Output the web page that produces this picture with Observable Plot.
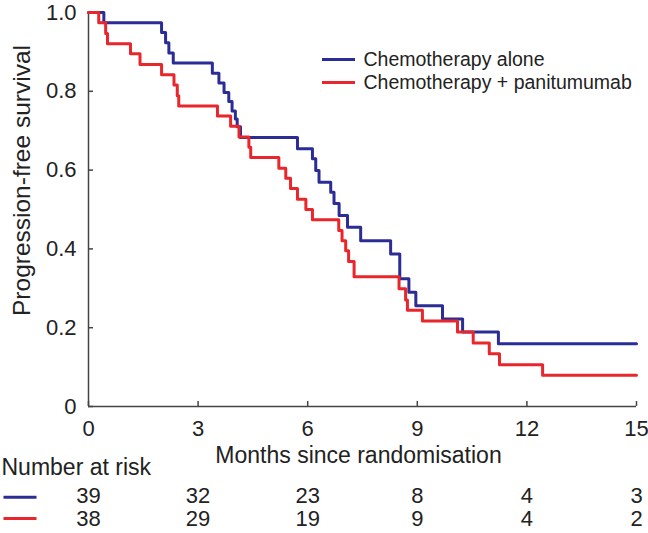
<!DOCTYPE html>
<html>
<head>
<meta charset="utf-8">
<script src="https://cdn.jsdelivr.net/npm/d3@7"></script>
<script src="https://cdn.jsdelivr.net/npm/@observablehq/plot@0.6"></script>
<style>
  html, body { margin: 0; padding: 0; background: #fff; }
  #chart svg { display: block; }
</style>
</head>
<body>
<div id="chart"></div>
<script>
// ---- data ----
const seriesNames = ["Chemotherapy alone", "Chemotherapy + panitumumab"];
const seriesColors = ["#2b2d95", "#e8262b"];

// Kaplan–Meier step points: time (months) and progression-free survival
const aloneTime = [0, 0.42, 2.0, 2.11, 2.2, 2.32, 3.39, 3.57, 3.71, 3.84, 3.93, 4.02, 4.07, 4.16,
  5.72, 6.13, 6.22, 6.31, 6.63, 6.72, 6.86, 7.09, 7.45, 8.27, 8.52, 8.77, 8.96, 9.69, 10.24, 11.22, 15];
const aloneSurv = [1.0, 0.974, 0.949, 0.923, 0.897, 0.872, 0.846, 0.821, 0.797, 0.774, 0.75, 0.73, 0.71, 0.683,
  0.654, 0.629, 0.599, 0.569, 0.544, 0.515, 0.485, 0.455, 0.421, 0.387, 0.324, 0.29, 0.256, 0.222, 0.189, 0.159, 0.159];

const panTime = [0, 0.28, 0.47, 0.52, 1.15, 1.41, 2.0, 2.34, 2.43, 2.47, 3.53, 3.89, 4.12, 4.39, 4.44,
  5.21, 5.4, 5.53, 5.72, 5.95, 6.13, 6.85, 6.94, 7.04, 7.12, 7.27, 8.5, 8.68, 8.73, 9.14, 10.1, 10.53, 10.97, 11.25, 12.43, 15];
const panSurv = [1.0, 0.974, 0.947, 0.921, 0.895, 0.868, 0.842, 0.816, 0.789, 0.763, 0.737, 0.711, 0.684, 0.658, 0.632,
  0.605, 0.579, 0.553, 0.526, 0.5, 0.474, 0.447, 0.421, 0.395, 0.368, 0.329, 0.299, 0.27, 0.244, 0.217, 0.189, 0.161, 0.134, 0.106, 0.079, 0.079];

const xTicks = [0, 3, 6, 9, 12, 15];
const yTicks = [0, 0.2, 0.4, 0.6, 0.8, 1.0];

const riskTimes = [0, 3, 6, 9, 12, 15];
const riskAlone = [39, 32, 23, 8, 4, 3];
const riskPan = [38, 29, 19, 9, 4, 2];

const xLabel = "Months since randomisation";
const yLabel = "Progression-free survival";
const riskTitle = "Number at risk";

// ---- build tables ----
const alone = aloneTime.map((t, i) => ({t, s: aloneSurv[i]}));
const pan = panTime.map((t, i) => ({t, s: panSurv[i]}));

const dash = {draw(ctx) { ctx.moveTo(-16.5, 0); ctx.lineTo(16.5, 0); }};
const FONT = "'Liberation Sans', Arial, Helvetica, sans-serif";
const TXT = "#222";

const chart = Plot.plot({
  width: 648,
  height: 533,
  marginLeft: 88,
  marginRight: 12,
  marginTop: 12,
  marginBottom: 127,
  style: {fontFamily: FONT, fontSize: "22px", color: TXT, background: "#fff", overflow: "visible"},
  x: {domain: [0, 15]},
  y: {domain: [0, 1]},
  marks: [
    Plot.axisX({ticks: xTicks, tickSize: -5, tickPadding: 19, tickFormat: d => String(d), label: null,
      stroke: "#444", strokeWidth: 1.5, fill: TXT, fontSize: 22}),
    Plot.axisY({ticks: yTicks, tickSize: -5, tickPadding: 17, tickFormat: d => d === 0 ? "0" : d.toFixed(1), label: null,
      stroke: "#444", strokeWidth: 1.5, fill: TXT, fontSize: 22}),
    Plot.ruleX([0], {stroke: "#444", strokeWidth: 1.5}),
    Plot.ruleY([0], {stroke: "#444", strokeWidth: 1.5}),
    Plot.line(alone, {x: "t", y: "s", curve: "step-after", stroke: seriesColors[0], strokeWidth: 3}),
    Plot.line(pan, {x: "t", y: "s", curve: "step-after", stroke: seriesColors[1], strokeWidth: 3}),
    // legend
    Plot.dot([seriesNames[0]], {frameAnchor: "top-left", dx: 250, dy: 47, symbol: dash, fill: "none", stroke: seriesColors[0], strokeWidth: 3}),
    Plot.dot([seriesNames[1]], {frameAnchor: "top-left", dx: 250, dy: 70, symbol: dash, fill: "none", stroke: seriesColors[1], strokeWidth: 3}),
    Plot.text([seriesNames[0]], {frameAnchor: "top-left", dx: 275, dy: 47, textAnchor: "start", lineAnchor: "middle", fontSize: 19.5, fill: TXT}),
    Plot.text([seriesNames[1]], {frameAnchor: "top-left", dx: 275, dy: 70, textAnchor: "start", lineAnchor: "middle", fontSize: 19.5, fill: TXT}),
    // axis titles
    Plot.text([xLabel], {frameAnchor: "bottom", dx: -4, dy: 49, textAnchor: "middle", lineAnchor: "middle", fontSize: 23, fill: TXT}),
    Plot.text([yLabel], {frameAnchor: "left", dx: -66, dy: -29, rotate: -90, textAnchor: "middle", lineAnchor: "middle", fontSize: 24.5, fill: TXT}),
    // number at risk
    Plot.text([riskTitle], {frameAnchor: "bottom-left", dx: -87, dy: 61.5, textAnchor: "start", lineAnchor: "middle", fontSize: 23, fill: TXT}),
    Plot.dot([seriesNames[0]], {frameAnchor: "bottom-left", dx: -68.5, dy: 90.7, symbol: dash, fill: "none", stroke: seriesColors[0], strokeWidth: 3}),
    Plot.dot([seriesNames[1]], {frameAnchor: "bottom-left", dx: -68.5, dy: 112, symbol: dash, fill: "none", stroke: seriesColors[1], strokeWidth: 3}),
    Plot.text(riskAlone, {x: riskTimes, frameAnchor: "bottom", dy: 89.5, text: d => String(d), textAnchor: "middle", lineAnchor: "middle", fontSize: 22, fill: TXT}),
    Plot.text(riskPan, {x: riskTimes, frameAnchor: "bottom", dy: 112.5, text: d => String(d), textAnchor: "middle", lineAnchor: "middle", fontSize: 22, fill: TXT})
  ]
});

document.getElementById("chart").appendChild(chart);
</script>
</body>
</html>
